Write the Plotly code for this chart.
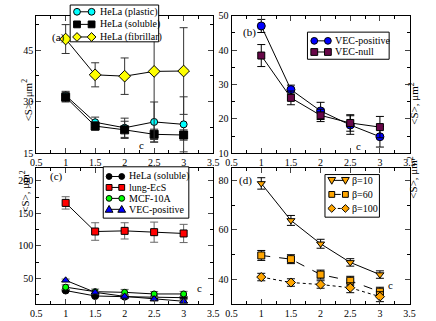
import plotly.graph_objects as go

c_vals = [1, 1.5, 2, 2.5, 3]

# panel (a)
hela_plastic = [31.8, 24.0, 22.4, 24.1, 23.4]
hela_plastic_err = [1.2, 1.5, 2.8, 5.8, 8.0]
hela_soluble = [31.3, 22.9, 21.8, 20.5, 20.3]
hela_soluble_err = [1.4, 1.2, 2.5, 1.5, 1.5]
hela_fibrillar = [48.2, 37.8, 37.4, 38.8, 38.9]
hela_fibrillar_err = [4.2, 3.5, 5.3, 20.6, 12.6]

# panel (b)
vec_pos = [47.0, 28.5, 22.3, 18.2, 14.8]
vec_pos_err = [1.9, 1.3, 2.5, 2.7, 3.0]
vec_null = [38.4, 26.1, 21.0, 18.8, 17.6]
vec_null_err = [3.2, 2.0, 1.8, 2.4, 3.1]

# panel (c)
lung = [166, 122, 123, 121, 119]
lung_err = [9.5, 13.5, 12.5, 15.5, 14.0]
mcf = [36.5, 29.5, 28.5, 26.0, 26.0]
mcf_err = [3.5, 4.0, 4.5, 3.5, 4.0]

# panel (d)
beta10 = [78.7, 63.8, 54.4, 46.9, 42.0]
beta10_err = [2.3, 2.0, 1.8, 1.5, 1.5]
beta60 = [49.7, 48.2, 42.0, 39.5, 35.1]
beta60_err = [2.0, 1.8, 1.8, 1.8, 1.8]
beta100 = [41.0, 38.8, 38.0, 36.7, 33.1]
beta100_err = [1.5, 1.5, 1.5, 2.0, 2.0]

W, H = 436, 321
FONT = "Liberation Serif"
YTITLE = "&lt;S&gt;, μm<sup>2</sup>"

fig = go.Figure()
legends = {"a": [], "b": [], "c": [], "d": []}


def add(y, err, name, color, symbol, size, xa, ya, panel, dash="solid", ecolor="black"):
    fig.add_trace(go.Scatter(
        x=c_vals, y=y, name=name, mode="lines+markers", showlegend=False,
        xaxis=xa, yaxis=ya,
        line=dict(color="black", width=1, dash=dash),
        marker=dict(color=color, symbol=symbol, size=size, line=dict(color="black", width=1)),
        error_y=dict(type="data", array=err, color=ecolor, thickness=1, width=4),
    ))
    legends[panel].append((name, color, symbol, dash))


add(hela_plastic, hela_plastic_err, "HeLa (plastic)", "#00ffff", "circle", 7, "x", "y", "a", ecolor="#333")
add(hela_soluble, hela_soluble_err, "HeLa (soluble)", "black", "square", 8, "x", "y", "a", ecolor="#333")
add(hela_fibrillar, hela_fibrillar_err, "HeLa (fibrillar)", "#ffff00", "diamond", 9, "x", "y", "a", ecolor="#333")

add(vec_pos, vec_pos_err, "VEC-positive", "#0000ff", "circle", 8, "x2", "y2", "b")
add(vec_null, vec_null_err, "VEC-null", "#670748", "square", 7, "x2", "y2", "b")

add(hela_soluble, hela_soluble_err, "HeLa (soluble)", "black", "circle", 7, "x3", "y3", "c", ecolor="#666")
add(lung, lung_err, "lung-EcS", "#ff0000", "square", 7, "x3", "y3", "c", ecolor="#666")
add(mcf, mcf_err, "MCF-10A", "#00ff00", "circle", 6, "x3", "y3", "c", ecolor="#666")
add(vec_pos, vec_pos_err, "VEC-positive", "#0000ff", "triangle-up", 7, "x3", "y3", "c", ecolor="#666")

add(beta10, beta10_err, "β=10", "#ffa500", "triangle-down", 7, "x4", "y4", "d")
add(beta60, beta60_err, "β=60", "#ffa500", "square", 7, "x4", "y4", "d", dash="dash")
add(beta100, beta100_err, "β=100", "#ffa500", "diamond", 7, "x4", "y4", "d", dash="dot")

xdom_l = [31 / W, 213 / W]
xdom_r = [232 / W, 415 / W]
ydom_t = [1 - 153 / H, 1 - 11 / H]
ydom_b = [1 - 309 / H, 1 - 168 / H]


def xax(dom, anchor):
    return dict(domain=dom, anchor=anchor, range=[0.5, 3.5], dtick=0.5, tick0=0.5,
                ticks="inside", ticklen=5, mirror="allticks", showline=True, linecolor="black",
                linewidth=1, showgrid=False, zeroline=False,
                tickfont=dict(size=10, family=FONT, color="black"),
                minor=dict(dtick=0.25, ticks="inside", ticklen=3, tickcolor="black"))


def yax(dom, anchor, rng, dt, mdt):
    return dict(domain=dom, anchor=anchor, range=rng, dtick=dt, tick0=0,
                ticks="inside", ticklen=5, mirror="allticks", showline=True, linecolor="black",
                linewidth=1, showgrid=False, zeroline=False, tickfont=dict(size=10, family=FONT, color="black"),
                minor=dict(dtick=mdt, ticks="inside", ticklen=3, tickcolor="black"))


fig.update_layout(
    width=W, height=H, margin=dict(l=0, r=0, t=0, b=0),
    paper_bgcolor="white", plot_bgcolor="white",
    font=dict(family=FONT, color="black"),
    xaxis=xax(xdom_l, "y"), yaxis=yax(ydom_t, "x", [15, 55], 15, 7.5),
    xaxis2=xax(xdom_r, "y2"), yaxis2=yax(ydom_t, "x2", [10, 50], 10, 5),
    xaxis3=xax(xdom_l, "y3"), yaxis3=yax(ydom_b, "x3", [10, 220], 50, 25),
    xaxis4=xax(xdom_r, "y4"), yaxis4=yax(ydom_b, "x4", [30, 85], 20, 10),
)


def px(x, y):
    return x / W, 1 - y / H


def symbol_shape(sym, cx, cy, r, color):
    style = dict(xref="paper", yref="paper", fillcolor=color, line=dict(color="black", width=1), layer="above")
    if sym in ("circle", "square"):
        x0, y0 = px(cx - r, cy + r)
        x1, y1 = px(cx + r, cy - r)
        fig.add_shape(type="circle" if sym == "circle" else "rect", x0=x0, y0=y0, x1=x1, y1=y1, **style)
        return
    if sym == "diamond":
        pts = [(cx, cy - r - 1), (cx + r + 1, cy), (cx, cy + r + 1), (cx - r - 1, cy)]
    elif sym == "triangle-up":
        pts = [(cx, cy - r - 1), (cx + r + 1, cy + r), (cx - r - 1, cy + r)]
    else:
        pts = [(cx, cy + r + 1), (cx + r + 1, cy - r), (cx - r - 1, cy - r)]
    path = "M " + " L ".join("%f,%f" % px(a, b) for a, b in pts) + " Z"
    fig.add_shape(type="path", path=path, **style)


# custom legend boxes: box corners, first row y, row step, marker x1, x2, text x, marker radius
leg_layout = {
    "a": ((66, 0, 157, 38), 7, 13, 73, 88, 95, 3.5),
    "b": ((310, 28, 394, 56), 37, 11.5, 317, 331, 336, 3.5),
    "c": ((100, 167, 188, 220), 177, 11.3, 106, 119, 124, 3),
    "d": ((328, 175, 384, 219), 181, 14.5, 335, 349, 354, 3),
}
for key, (box, y0, step, m1, m2, tx, r) in leg_layout.items():
    bx0, by0 = px(box[0], box[3])
    bx1, by1 = px(box[2], box[1])
    fig.add_shape(type="rect", xref="paper", yref="paper", x0=bx0, y0=by0, x1=bx1, y1=by1,
                  fillcolor="white", line=dict(color="black", width=1), layer="above")
    for i, (name, color, sym, dash) in enumerate(legends[key]):
        yy = y0 + i * step
        lx0, ly = px(m1, yy)
        lx1, _ = px(m2, yy)
        fig.add_shape(type="line", xref="paper", yref="paper", x0=lx0, y0=ly, x1=lx1, y1=ly,
                      line=dict(color="black", width=1, dash=dash), layer="above")
        symbol_shape(sym, m1, yy, r, color)
        symbol_shape(sym, m2, yy, r, color)
        tx_p, ty_p = px(tx, yy)
        fig.add_annotation(text=name, x=tx_p, y=ty_p, xref="paper", yref="paper", xanchor="left",
                           yanchor="middle", showarrow=False, font=dict(size=10, family=FONT, color="black"))

ann = [
    ("(a)", 45, 25, 0), ("(b)", 250, 20, 0), ("(c)", 43, 177, 0), ("(d)", 246, 181, 0),
    ("c", 135, 144, 0), ("c", 367, 146, 0), ("c", 199, 300, 0), ("c", 400, 297, 0),
    (YTITLE, 12, 75, -90), (YTITLE, 10, 193, -90), (YTITLE, 428, 78, -90), (YTITLE, 428, 178, -90),
]
for txt, x, y, ang in ann:
    ax, ay = px(x, y)
    fig.add_annotation(text=txt, x=ax, y=ay, xref="paper", yref="paper",
                       showarrow=False, textangle=ang, font=dict(size=11, family=FONT, color="black"))

fig.write_html("out.html", config={"displayModeBar": False},
               post_script="document.body.style.margin='0';")
